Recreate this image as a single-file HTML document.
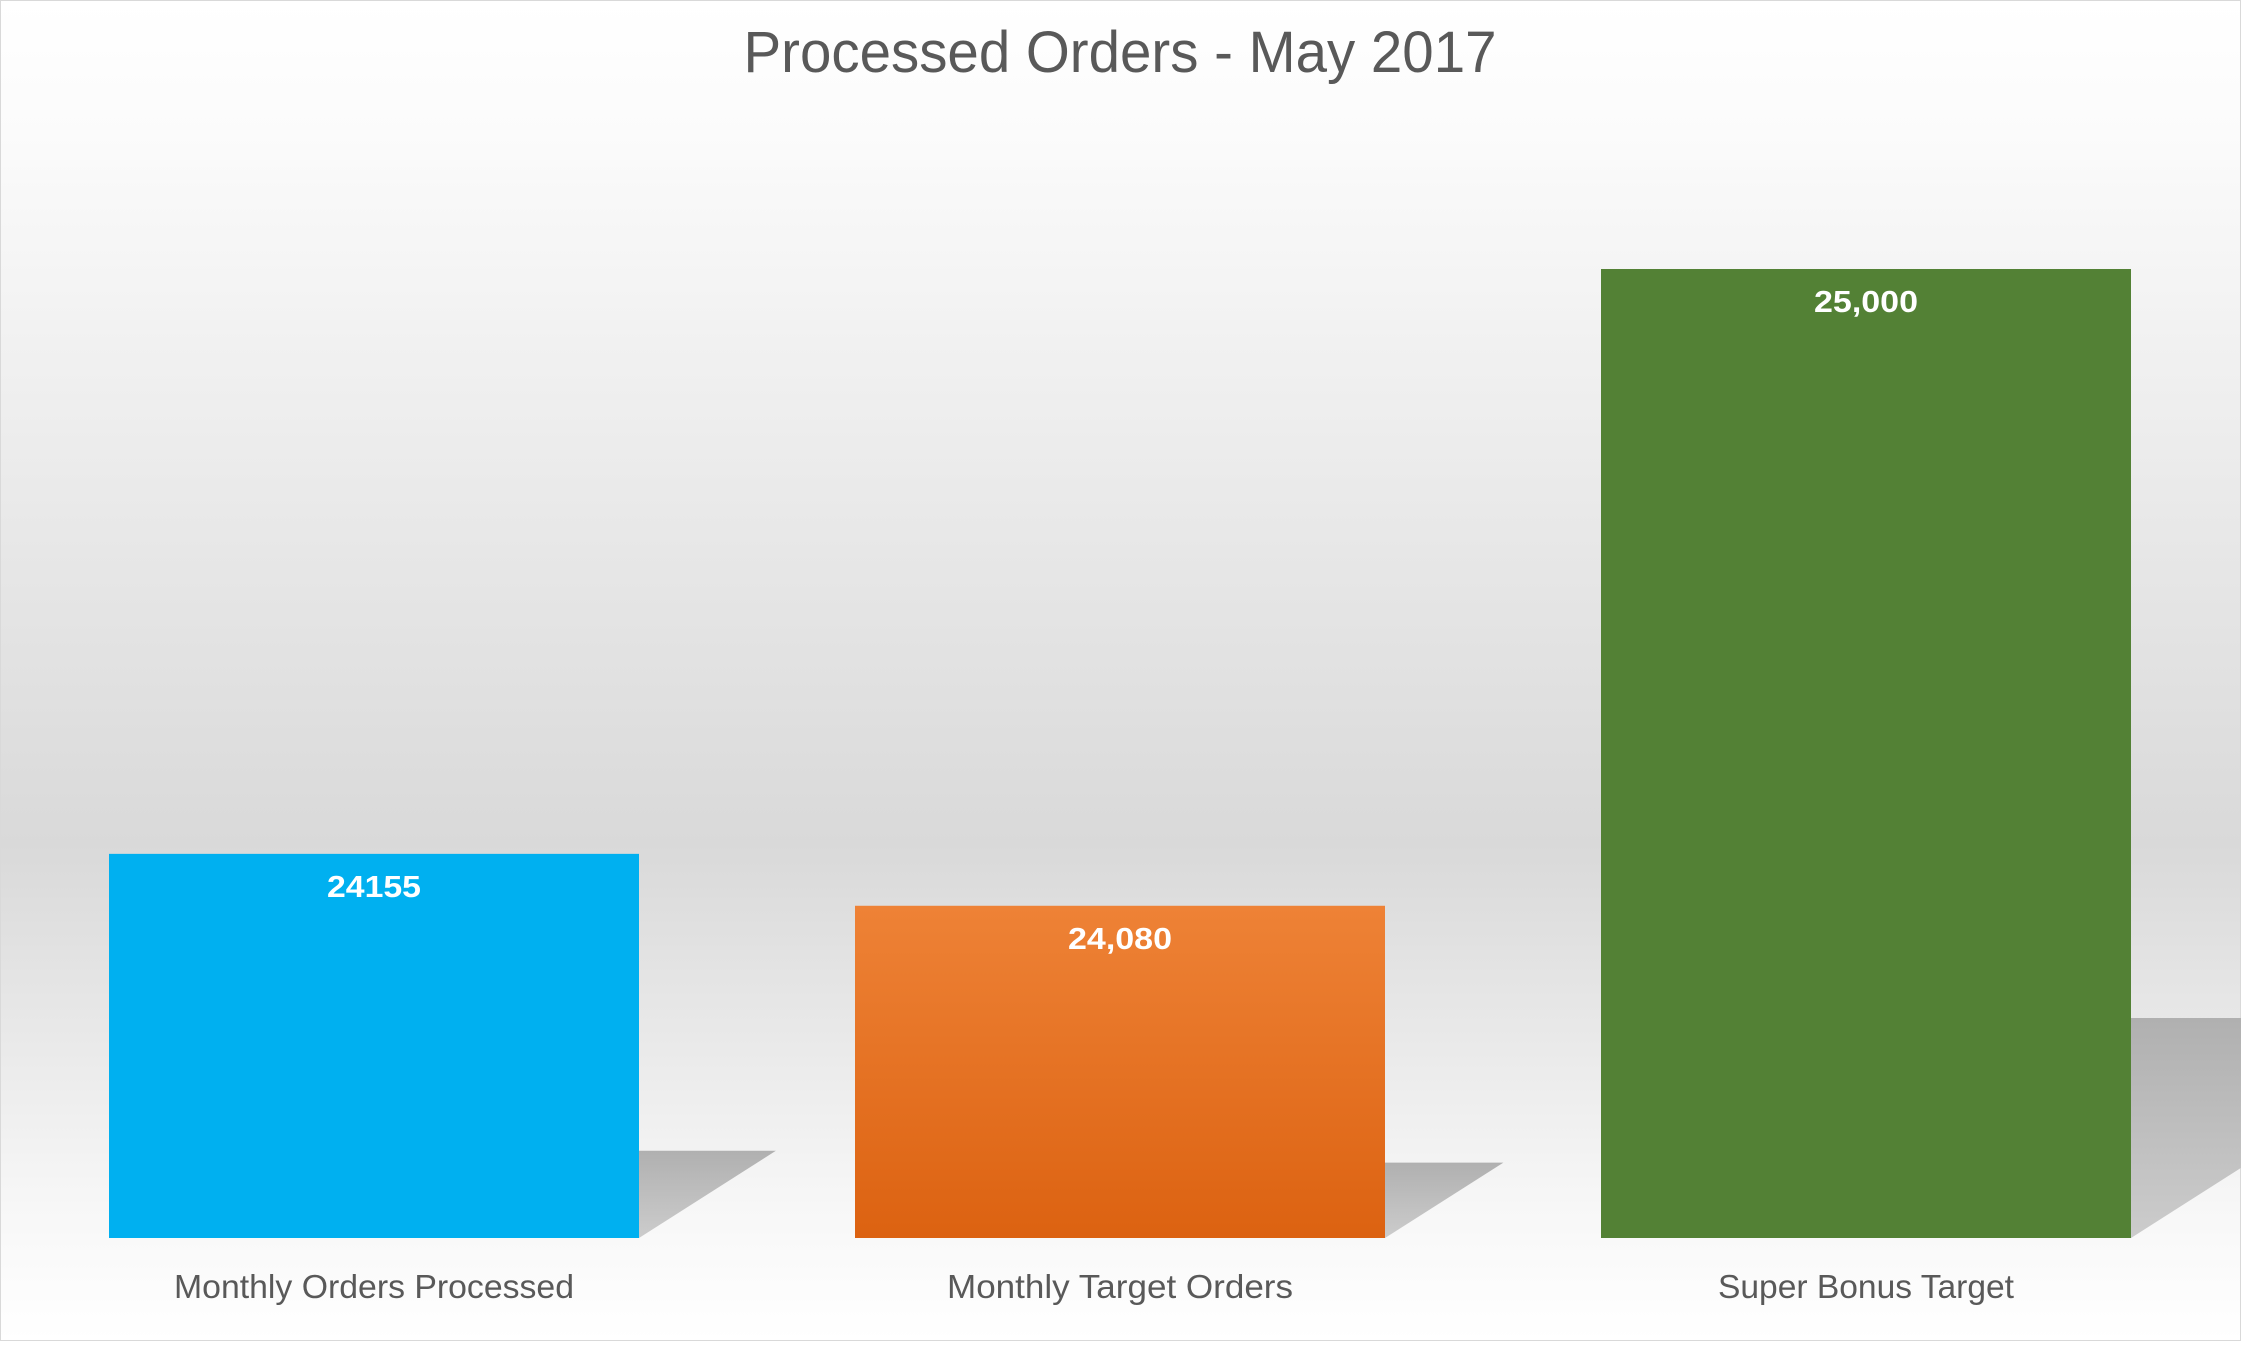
<!DOCTYPE html>
<html><head><meta charset="utf-8"><style>
html,body{margin:0;padding:0;}
body{width:2241px;height:1341px;overflow:hidden;font-family:"Liberation Sans",sans-serif;}
</style></head><body>
<svg id="chart" width="2241" height="1341" viewBox="0 0 2241 1341" xmlns="http://www.w3.org/2000/svg">
<defs>
<linearGradient id="bg" x1="0" y1="0" x2="0" y2="1">
<stop offset="0" stop-color="#ffffff"/>
<stop offset="0.1" stop-color="#fbfbfb"/>
<stop offset="0.63" stop-color="#d9d9d9"/>
<stop offset="0.9" stop-color="#f7f7f7"/>
<stop offset="1" stop-color="#ffffff"/>
</linearGradient>
<linearGradient id="org" x1="0" y1="0" x2="0" y2="1">
<stop offset="0" stop-color="#ee8236"/>
<stop offset="1" stop-color="#dc6211"/>
</linearGradient>
<linearGradient id="shd" x1="0" y1="0" x2="0" y2="1">
<stop offset="0" stop-color="#b0b0b0"/>
<stop offset="1" stop-color="#cccccc"/>
</linearGradient>
</defs>
<rect x="0.5" y="0.5" width="2240" height="1340" fill="url(#bg)" stroke="#d9d9d9"/>
<text x="1120" y="72" text-anchor="middle" font-size="58" fill="#595959" textLength="753" lengthAdjust="spacingAndGlyphs">Processed Orders - May 2017</text>
<g id="shadows"></g>
<g id="bars"></g>
<g id="labels"></g>
</svg>
<script>
const categories = ["Monthly Orders Processed", "Monthly Target Orders", "Super Bonus Target"];
const values = [24155, 24080, 25000];
const valueLabels = ["24155", "24,080", "25,000"];
const colors = ["#00b0f0", "url(#org)", "#538135"];
const yMin = 23600, yMax = 25000;
const plotTop = 269, plotBottom = 1238, plotLeft = 0, plotRight = 2241;
const bandStart = 109, bandStep = 746, barW = 530;
function y(v){ return plotBottom - (v - yMin) / (yMax - yMin) * (plotBottom - plotTop); }
function x(i){ return bandStart + i * bandStep; }
const NS = "http://www.w3.org/2000/svg";
const gS = document.getElementById('shadows'), gB = document.getElementById('bars'), gL = document.getElementById('labels');
const catWidths = [400, 346, 296];
const valWidths = [94, 104, 104];
values.forEach((v, i) => {
  const x0 = x(i), yt = y(v), h = plotBottom - yt;
  const sh = h * 0.227, dx = sh * 1.57;
  const p = document.createElementNS(NS, 'polygon');
  
  
  const xr = x0 + barW;
  p.setAttribute('points', `${xr},${plotBottom - sh} ${xr + dx},${plotBottom - sh} ${xr},${plotBottom}`);
  p.setAttribute('fill', 'url(#shd)');
  gS.appendChild(p);
  const r = document.createElementNS(NS, 'rect');
  
  
  r.setAttribute('x', x0); r.setAttribute('y', yt);
  r.setAttribute('width', barW); r.setAttribute('height', h);
  r.setAttribute('fill', colors[i]);
  gB.appendChild(r);
  const t = document.createElementNS(NS, 'text');
  
  
  t.setAttribute('x', x0 + barW / 2); t.setAttribute('y', yt + 43);
  t.setAttribute('text-anchor', 'middle'); t.setAttribute('font-size', '31');
  t.setAttribute('font-weight', 'bold'); t.setAttribute('fill', '#ffffff');
  t.setAttribute('textLength', valWidths[i]); t.setAttribute('lengthAdjust', 'spacingAndGlyphs');
  t.textContent = valueLabels[i];
  gL.appendChild(t);
  const c = document.createElementNS(NS, 'text');
  
  
  c.setAttribute('x', x0 + barW / 2); c.setAttribute('y', 1298);
  c.setAttribute('text-anchor', 'middle'); c.setAttribute('font-size', '33');
  c.setAttribute('fill', '#595959');
  c.setAttribute('textLength', catWidths[i]); c.setAttribute('lengthAdjust', 'spacingAndGlyphs');
  c.textContent = categories[i];
  gL.appendChild(c);
});
</script>
</body></html>
